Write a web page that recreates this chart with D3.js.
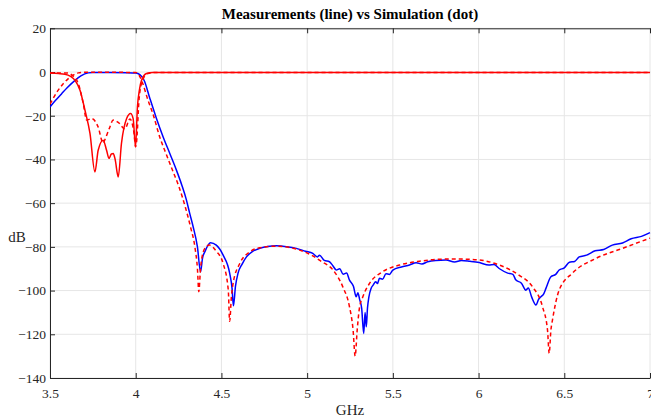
<!DOCTYPE html>
<html>
<head>
<meta charset="utf-8">
<script src="https://cdn.jsdelivr.net/npm/d3@7"></script>
<style>
  body { margin: 0; background: #fff; }
  text { font-family: "Liberation Serif", "Times New Roman", serif; }
</style>
</head>
<body>
<svg id="chart"></svg>
<script>
// measured S21 (blue line)
const measS21Freq = [3.5, 3.53, 3.568, 3.6, 3.646, 3.68, 3.723, 3.75, 3.85, 3.95, 4.0, 4.024, 4.05, 4.08, 4.12, 4.16, 4.2, 4.238, 4.27, 4.296, 4.315, 4.335, 4.36, 4.378, 4.39, 4.403, 4.436, 4.47, 4.51, 4.548, 4.562, 4.57, 4.582, 4.597, 4.62, 4.646, 4.68, 4.723, 4.77, 4.82, 4.88, 4.937, 4.99, 5.033, 5.06, 5.072, 5.1, 5.13, 5.15, 5.17, 5.19, 5.21, 5.23, 5.247, 5.27, 5.286, 5.296, 5.306, 5.318, 5.33, 5.338, 5.345, 5.352, 5.36, 5.373, 5.385, 5.4, 5.41, 5.422, 5.44, 5.46, 5.48, 5.5, 5.55, 5.597, 5.636, 5.67, 5.703, 5.75, 5.81, 5.86, 5.9, 5.95, 6.004, 6.06, 6.09, 6.12, 6.17, 6.2, 6.218, 6.25, 6.276, 6.29, 6.31, 6.335, 6.35, 6.364, 6.38, 6.393, 6.422, 6.45, 6.47, 6.5, 6.53, 6.56, 6.587, 6.63, 6.68, 6.73, 6.78, 6.84, 6.89, 6.95, 7.0];
const measS21 = [-16, -13.2, -9.9, -7.2, -3.8, -1.8, -0.4, -0.2, -0.2, -0.3, -0.5, -1.2, -4, -11.4, -21, -29.7, -37.5, -45, -52, -58.6, -64.7, -70.8, -80, -91.4, -85, -82.3, -78.1, -79.2, -83.8, -92, -99, -107, -98, -92, -88, -84.6, -82.2, -80.7, -79.8, -79.5, -79.9, -80.7, -82, -83, -84.6, -83.8, -86.2, -86.8, -88.6, -90.6, -90, -92.5, -92, -95.2, -98, -102.8, -101, -104, -108, -119.6, -110, -116.6, -108, -103, -99, -97.5, -96, -96.8, -94.4, -94.8, -92.3, -92.6, -90.6, -89.2, -88.3, -87.3, -87.8, -86.8, -86.2, -86, -86.9, -86.2, -86.6, -87.2, -88.3, -88.1, -89.9, -92, -92.6, -95.2, -96.6, -99.8, -98.8, -103, -106.6, -104, -102.8, -101.5, -99, -93.7, -92.6, -90.6, -89.6, -87, -86.7, -84.6, -83.8, -81.8, -81.2, -79.2, -78.2, -76.3, -75.2, -73.5];

// simulated S21 (red dots)
const simS21Freq = [3.5, 3.548, 3.607, 3.665, 3.7, 4.0, 4.02, 4.04, 4.07, 4.1, 4.14, 4.18, 4.22, 4.25, 4.29, 4.32, 4.345, 4.36, 4.368, 4.378, 4.389, 4.41, 4.43, 4.47, 4.51, 4.54, 4.548, 4.558, 4.568, 4.607, 4.665, 4.723, 4.82, 4.937, 5.03, 5.08, 5.15, 5.208, 5.247, 5.268, 5.28, 5.292, 5.305, 5.325, 5.364, 5.44, 5.54, 5.655, 5.8, 5.9, 6.004, 6.12, 6.237, 6.315, 6.373, 6.402, 6.412, 6.422, 6.431, 6.47, 6.548, 6.684, 6.839, 7.0];
const simS21 = [-14.7, -8.3, -3, -0.4, -0.1, -0.2, -1.5, -5, -12.5, -19, -29.7, -38, -46, -52, -62, -71, -80, -90, -100.5, -90, -83.8, -80, -79.2, -82, -87.6, -99.8, -114, -103, -96.7, -87.6, -82.3, -80.4, -79.7, -81, -84, -86.5, -90.5, -98.3, -107.4, -118, -130, -118, -108, -102.8, -96.7, -91.4, -88.3, -86.6, -85.6, -85.6, -86, -88.3, -93, -98.3, -107.4, -118, -128.7, -118, -113.5, -99.8, -92, -85.3, -80.7, -76];

// measured S11 (red line)
const measS11Freq = [3.5, 3.55, 3.587, 3.62, 3.646, 3.675, 3.704, 3.733, 3.762, 3.781, 3.81, 3.83, 3.844, 3.858, 3.869, 3.88, 3.898, 3.917, 3.947, 3.97, 3.985, 3.999, 4.01, 4.022, 4.034, 4.063, 4.1, 7.0];
const measS11 = [-0.5, -0.7, -1, -2, -3.8, -8.3, -17.5, -28, -45.7, -35.8, -31.2, -35.8, -39.5, -37.5, -37.3, -40, -48, -32.6, -21.3, -19, -21.3, -34.2, -16, -8, -3.8, -0.7, -0.2, -0.2];

// simulated S11 (red dots)
const simS11Freq = [3.5, 3.6, 3.63, 3.665, 3.694, 3.714, 3.743, 3.78, 3.81, 3.82, 3.845, 3.869, 3.898, 3.937, 3.966, 3.99, 3.999, 4.005, 4.02, 4.04, 4.07, 4.12, 7.0];
const simS11 = [-0.5, -0.4, -1.5, -5.3, -14.4, -22, -21.3, -25, -32.5, -31, -26, -22, -23, -26, -21.5, -28, -34.2, -32, -12, -3.8, -0.7, -0.2, -0.2];

const xTicks = [3.5, 4, 4.5, 5, 5.5, 6, 6.5, 7];
const yTicks = [20, 0, -20, -40, -60, -80, -100, -120, -140];

const width = 651, height = 419;
const mLeft = 50, mRight = 650, mTop = 28.3, mBottom = 378;
const serif = '"Liberation Serif", "Times New Roman", serif';

const svg = d3.select('#chart')
  .attr('width', width)
  .attr('height', height);

const x = d3.scaleLinear().domain([3.5, 7]).range([mLeft, mRight]);
const y = d3.scaleLinear().domain([-140, 20]).range([mBottom, mTop]);

svg.append('clipPath').attr('id', 'clip')
  .append('rect')
  .attr('x', mLeft).attr('y', mTop)
  .attr('width', mRight - mLeft + 5).attr('height', mBottom - mTop);

// grid
const grid = svg.append('g');
grid.selectAll('line.gx').data(xTicks).enter().append('line')
  .attr('x1', d => x(d)).attr('x2', d => x(d))
  .attr('y1', mTop).attr('y2', mBottom)
  .attr('stroke', '#e6e6e6').attr('stroke-width', 1);
grid.selectAll('line.gy').data(yTicks).enter().append('line')
  .attr('x1', mLeft).attr('x2', width)
  .attr('y1', d => y(d)).attr('y2', d => y(d))
  .attr('stroke', '#e6e6e6').attr('stroke-width', 1);

// axes (matlab style, ticks inward)
const axisColor = '#262626';
const xAxis = svg.append('g')
  .attr('transform', `translate(0,${mBottom})`)
  .call(d3.axisBottom(x).tickValues(xTicks).tickFormat(d3.format('')).tickSizeInner(-5).tickSizeOuter(0).tickPadding(10));
const xTop = svg.append('g')
  .attr('transform', `translate(0,${mTop})`)
  .call(d3.axisTop(x).tickValues(xTicks).tickFormat('').tickSizeInner(-5).tickSizeOuter(0));
const yAxis = svg.append('g')
  .attr('transform', `translate(${mLeft},0)`)
  .call(d3.axisLeft(y).tickValues(yTicks).tickFormat(d3.format('')).tickSizeInner(-5).tickSizeOuter(0).tickPadding(4));

[xAxis, xTop, yAxis].forEach(g => {
  g.attr('font-family', serif).attr('font-size', 13.5);
  g.select('.domain').attr('stroke', axisColor).attr('stroke-width', 1);
  g.selectAll('.tick line').attr('stroke', axisColor);
  g.selectAll('.tick text')
    .attr('fill', axisColor)
    .style('font-family', serif)
    .style('font-size', '13.5px');
});

// title and labels
svg.append('text')
  .attr('x', 350).attr('y', 19)
  .attr('text-anchor', 'middle')
  .style('font-family', serif)
  .style('font-weight', 'bold')
  .style('font-size', '15px')
  .attr('fill', '#000')
  .text('Measurements (line) vs Simulation (dot)');

svg.append('text')
  .attr('x', 17).attr('y', 242)
  .attr('text-anchor', 'middle')
  .style('font-family', serif)
  .style('font-size', '15px')
  .attr('fill', axisColor)
  .text('dB');

svg.append('text')
  .attr('x', 350).attr('y', 415)
  .attr('text-anchor', 'middle')
  .style('font-family', serif)
  .style('font-size', '15px')
  .attr('fill', axisColor)
  .text('GHz');

// curves
const line = d3.line()
  .x(d => x(d[0]))
  .y(d => y(d[1]))
  .curve(d3.curveMonotoneX);

const series = [
  { f: measS21Freq, v: measS21, color: '#0000ff', dash: null },
  { f: simS21Freq, v: simS21, color: '#ff0000', dash: '4,3' },
  { f: simS11Freq, v: simS11, color: '#ff0000', dash: '4,3' },
  { f: measS11Freq, v: measS11, color: '#ff0000', dash: null }
];

const plot = svg.append('g').attr('clip-path', 'url(#clip)');
series.forEach(s => {
  plot.append('path')
    .datum(s.f.map((f, i) => [f, s.v[i]]))
    .attr('fill', 'none')
    .attr('stroke', s.color)
    .attr('stroke-width', 1.5)
    .attr('stroke-dasharray', s.dash)
    .attr('d', line);
});
</script>
</body>
</html>
